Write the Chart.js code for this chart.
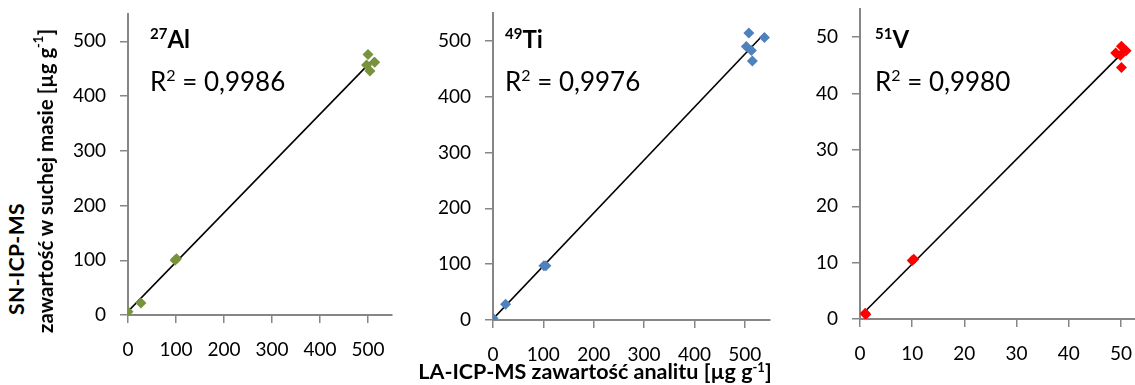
<!DOCTYPE html>
<html>
<head>
<meta charset="utf-8">
<script src="https://cdn.jsdelivr.net/npm/chart.js@4/dist/chart.umd.min.js"></script>
<style>
  html, body { margin: 0; padding: 0; background: #fff; }
  #wrap { position: relative; width: 1135px; height: 385px; overflow: hidden; font-family: Lato, "Open Sans", sans-serif; color: #000; }
  #wrap canvas { position: absolute; }
  .el { position: absolute; font-weight: bold; font-size: 24px; line-height: 24px; white-space: nowrap; }
  .el sup { font-size: 15px; vertical-align: 0; position: relative; top: -9px; }
  .r2 { position: absolute; font-size: 26px; line-height: 26px; white-space: nowrap; }
  .r2 sup { font-size: 16px; vertical-align: 0; position: relative; top: -10px; }
  .ytitle { position: absolute; font-weight: bold; font-size: 20.5px; line-height: 24px; white-space: nowrap;
            writing-mode: vertical-rl; transform: translate(-50%, -50%) rotate(180deg); }
  .xtitle { position: absolute; font-weight: bold; font-size: 21.5px; line-height: 24px; white-space: nowrap; transform: translate(-50%, -50%); }
  .xtitle sup, .ytitle sup { font-size: 13px; vertical-align: 0; position: relative; top: -7px; }
  .ytitle sup { top: 0; left: 7px; }
</style>
</head>
<body>
<div id="wrap">
  <canvas id="chartAl" width="374" height="365" style="left:28px;top:10px"></canvas>
  <canvas id="chartTi" width="387" height="371" style="left:393px;top:9px"></canvas>
  <canvas id="chartV" width="387" height="374" style="left:770px;top:5px"></canvas>

  <div class="el" style="left:150px;top:27px"><sup>27</sup>Al</div>
  <div class="r2" style="left:150px;top:68px">R<sup>2</sup> = 0,9986</div>
  <div class="el" style="left:505px;top:27px"><sup>49</sup>Ti</div>
  <div class="r2" style="left:505px;top:68px">R<sup>2</sup> = 0,9976</div>
  <div class="el" style="left:875px;top:27px"><sup>51</sup>V</div>
  <div class="r2" style="left:875px;top:68px">R<sup>2</sup> = 0,9980</div>

  <div class="ytitle" style="left:16px;top:259px;font-size:21px;letter-spacing:0.5px">SN-ICP-MS</div>
  <div class="ytitle" style="left:45px;top:181px">zawartość w suchej masie [µg g<sup>-1</sup>]</div>
  <div class="xtitle" style="left:595px;top:372px">LA-ICP-MS zawartość analitu [µg g<sup>-1</sup>]</div>
</div>

<script>
// LA-ICP-MS (x) vs SN-ICP-MS (y), µg/g
var alX = [0, 27, 98, 101, 500, 497, 514, 504];
var alY = [6, 22, 100, 103, 476, 457, 462, 446];

var tiX = [0, 25, 101, 105, 508, 539, 503, 513, 515];
var tiY = [3, 28, 97, 97, 514, 506, 490, 483, 464];

var vX = [1.0, 1.1, 10.0, 10.3, 49.0, 50.1, 51.0, 49.9, 50.1];
var vY = [1.0, 0.8, 10.4, 10.6, 47.2, 48.4, 47.6, 46.8, 44.6];

// axis ranges: [max, step]
var alAxis = [550, 100];
var tiAxis = [550, 100];
var vAxis = [55, 10];

var axisGrey = '#868686';
var tickFont = { family: 'Lato', size: 19 };

function toPoints(xs, ys) {
    return xs.map(function(x, i) { return { x: x, y: ys[i] }; });
}

// linear trendline over the data range (least squares)
function trendLine(xs, ys) {
    var n = xs.length, sx = 0, sy = 0, sxx = 0, sxy = 0;
    for (var i = 0; i < n; i++) {
        sx += xs[i]; sy += ys[i];
        sxx += xs[i] * xs[i]; sxy += xs[i] * ys[i];
    }
    var b = (n * sxy - sx * sy) / (n * sxx - sx * sx);
    var a = (sy - b * sx) / n;
    var x0 = Math.min.apply(null, xs), x1 = Math.max.apply(null, xs);
    return [{ x: x0, y: a + b * x0 }, { x: x1, y: a + b * x1 }];
}

function axis(max, step, isY, size) {
    return {
        type: 'linear',
        min: 0,
        max: max,
        ticks: {
            stepSize: step,
            includeBounds: false,
            color: '#000',
            font: tickFont,
            padding: isY ? 14 : 15,
            maxRotation: 0
        },
        grid: {
            drawOnChartArea: false,
            drawTicks: true,
            tickLength: 8,
            color: axisGrey,
            lineWidth: 1.5
        },
        border: { color: axisGrey, width: 2 },
        afterFit: function(scale) {
            // fixed axis size, no extra room for edge labels
            if (isY) scale.width = size; else scale.height = size;
            scale.paddingTop = 0;
            scale.paddingBottom = 0;
            scale.paddingLeft = 0;
            scale.paddingRight = 0;
        }
    };
}

function makeChart(id, xs, ys, color, range, yWidth) {
    var ctx = document.getElementById(id).getContext('2d');
    return new Chart(ctx, {
        type: 'scatter',
        data: {
            datasets: [{
                data: toPoints(xs, ys),
                pointStyle: 'rectRot',
                pointRadius: 5.5,
                pointHoverRadius: 5.5,
                backgroundColor: color,
                borderColor: color,
                borderWidth: 0
            }, {
                data: trendLine(xs, ys),
                showLine: true,
                pointRadius: 0,
                borderColor: '#000',
                borderWidth: 1.6
            }]
        },
        options: {
            responsive: false,
            animation: false,
            events: [],
            layout: { autoPadding: false, padding: { top: 4, right: 10, left: 0, bottom: 0 } },
            plugins: { legend: { display: false }, tooltip: { enabled: false } },
            scales: {
                x: axis(range[0], range[1], false, 60),
                y: axis(range[0], range[1], true, yWidth)
            }
        }
    });
}

makeChart('chartAl', alX, alY, '#77933C', alAxis, 100);
makeChart('chartTi', tiX, tiY, '#4F81BD', tiAxis, 100);
makeChart('chartV', vX, vY, '#FF0000', vAxis, 90);
</script>
</body>
</html>
